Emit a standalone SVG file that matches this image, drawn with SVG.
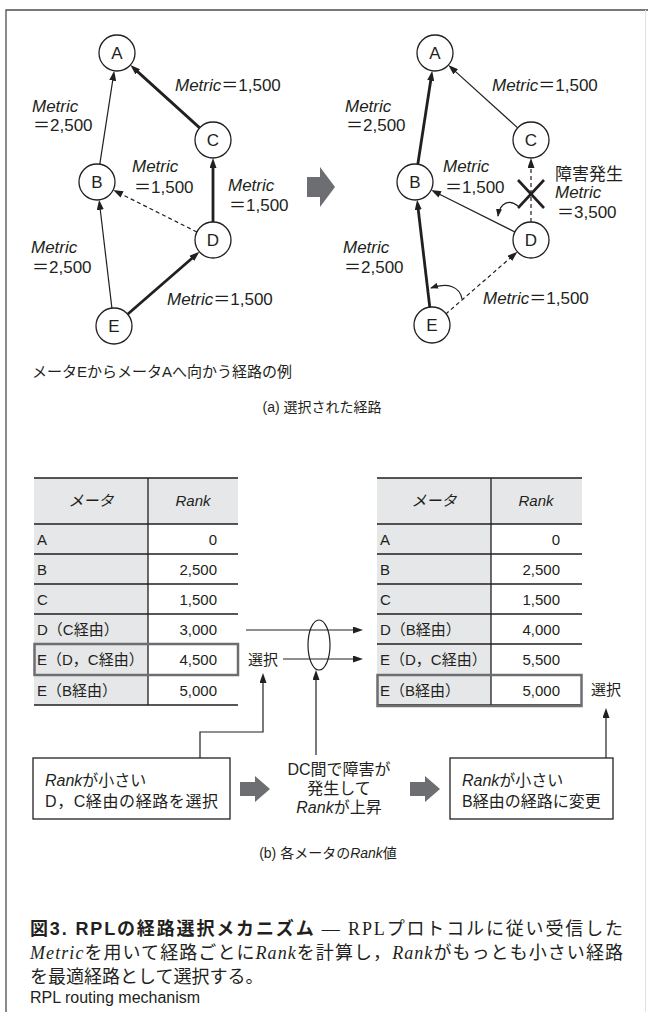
<svg xmlns="http://www.w3.org/2000/svg" width="648" height="1012" viewBox="0 0 648 1012">
<style>
text { font-family: "Liberation Sans", "Noto Sans CJK JP", sans-serif; fill: #231f20; }
.s17 { font-size: 17px; }
.s14 { font-size: 14px; }
.s15 { font-size: 15px; }
.s16 { font-size: 16px; }
.i { font-style: italic; }
.mid { text-anchor: middle; }
.end { text-anchor: end; }
.node circle { fill: #fff; stroke: #231f20; stroke-width: 1.3; }
.node text { font-size: 17px; text-anchor: middle; }
.e { fill: none; stroke: #231f20; }
.thin { stroke-width: 1.2; }
.thick { stroke-width: 2.8; }
.dash { stroke-dasharray: 4 3; }
.tl { stroke: #231f20; stroke-width: 1.3; fill: none; }
.hl { fill: none; stroke: #6d6e71; stroke-width: 2.5; }
.gray { fill: #e6e7e8; }
.garrow { fill: #6d6e71; }
.box { fill: #fff; stroke: #231f20; stroke-width: 1.3; }
.cap { font-family: "Liberation Serif", "Noto Sans CJK JP", serif; font-size: 18px; }
.capb { font-family: "Liberation Sans", "Noto Sans CJK JP", sans-serif; font-weight: bold; }
</style>
<defs>
<marker id="ah" markerUnits="userSpaceOnUse" markerWidth="10" markerHeight="7" refX="4" refY="3.5" orient="auto"><path d="M0,0 L10,3.5 L0,7 z" fill="#231f20"/></marker>
<marker id="ahs" markerUnits="userSpaceOnUse" markerWidth="8" markerHeight="6" refX="7" refY="3" orient="auto"><path d="M0,0 L8,3 L0,6 z" fill="#231f20"/></marker>
</defs>

<!-- frame -->
<g id="frame">
<path d="M6,1012 V10 H648" fill="none" stroke="#4d4d4f" stroke-width="1.3"/>
<line x1="645.5" y1="10" x2="645.5" y2="1012" stroke="#e2e2e2" stroke-width="1"/>
</g>

<!-- connectors -->
<g id="connectors">
<!-- left graph -->
<line class="e thin" x1="99.8" y1="164.2" x2="113.3" y2="76.7" marker-end="url(#ah)"/>
<line class="e thick" x1="199.7" y1="127.9" x2="134.8" y2="69.1" marker-end="url(#ah)"/>
<line class="e thick" x1="213" y1="222" x2="213" y2="164" marker-end="url(#ah)"/>
<line class="e thin dash" x1="196.9" y1="232" x2="118.5" y2="192.7" marker-end="url(#ah)"/>
<line class="e thin" x1="111.9" y1="308.1" x2="99.8" y2="205.8" marker-end="url(#ah)"/>
<line class="e thick" x1="127.6" y1="314.2" x2="194.9" y2="255.7" marker-end="url(#ah)"/>
<!-- right graph -->
<line class="e thick" x1="417.8" y1="164.2" x2="431.3" y2="76.7" marker-end="url(#ah)"/>
<line class="e thin" x1="517.7" y1="127.9" x2="452.8" y2="69.1" marker-end="url(#ah)"/>
<line class="e thin dash" x1="531" y1="222" x2="531" y2="164" marker-end="url(#ah)"/>
<line class="e thin" x1="514.9" y1="232" x2="436.5" y2="192.7" marker-end="url(#ah)"/>
<line class="e thick" x1="429.9" y1="308.1" x2="417.8" y2="205.8" marker-end="url(#ah)"/>
<line class="e thin dash" x1="445.6" y1="314.2" x2="512.9" y2="255.7" marker-end="url(#ah)"/>
<path class="e thin" d="M518,206 C510,199 500,202 498,216" marker-end="url(#ahs)"/>
<path class="e thin" d="M462,299 C460,287 448,282 431,288" marker-end="url(#ahs)"/>
<g stroke="#231f20" stroke-width="2.6">
<line x1="518" y1="180" x2="544" y2="208"/>
<line x1="544" y1="180" x2="518" y2="208"/>
</g>
<!-- big gray arrow -->
<polygon class="garrow" points="307,177 320,177 320,167 335,187 320,207 320,197 307,197"/>
<!-- table connectors -->
<line class="e thin" x1="246" y1="630" x2="357" y2="630" marker-end="url(#ah)"/>
<line class="e thin" x1="283" y1="659" x2="357" y2="659" marker-end="url(#ah)"/>
<ellipse cx="319" cy="645" rx="11" ry="25" fill="none" stroke="#231f20" stroke-width="1.2"/>
<path class="e thin" d="M200,758 V732 H263 V679" marker-end="url(#ah)"/>
<line class="e thin" x1="316" y1="755" x2="316" y2="676" marker-end="url(#ah)"/>
<line class="e thin" x1="606" y1="758" x2="606" y2="714" marker-end="url(#ah)"/>
<polygon class="garrow" points="240,782 255,782 255,776 270,789 255,802 255,796 240,796"/>
<polygon class="garrow" points="410,782 425,782 425,776 440,789 425,802 425,796 410,796"/>
</g>

<!-- left graph nodes -->
<g id="nA1" class="node"><circle cx="117" cy="53" r="18"/><text x="117" y="59">A</text></g>
<g id="nB1" class="node"><circle cx="97" cy="182" r="18"/><text x="97" y="188">B</text></g>
<g id="nC1" class="node"><circle cx="213" cy="140" r="18"/><text x="213" y="146">C</text></g>
<g id="nD1" class="node"><circle cx="213" cy="240" r="18"/><text x="213" y="246">D</text></g>
<g id="nE1" class="node"><circle cx="114" cy="326" r="18"/><text x="114" y="332">E</text></g>
<!-- right graph nodes -->
<g id="nA2" class="node"><circle cx="435" cy="53" r="18"/><text x="435" y="59">A</text></g>
<g id="nB2" class="node"><circle cx="415" cy="182" r="18"/><text x="415" y="188">B</text></g>
<g id="nC2" class="node"><circle cx="531" cy="140" r="18"/><text x="531" y="146">C</text></g>
<g id="nD2" class="node"><circle cx="531" cy="240" r="18"/><text x="531" y="246">D</text></g>
<g id="nE2" class="node"><circle cx="432" cy="325" r="18"/><text x="432" y="331">E</text></g>

<!-- left metric labels -->
<g id="labels-left" class="s17">
<text x="175" y="91"><tspan class="i">Metric</tspan>＝1,500</text>
<text x="32" y="112" class="i">Metric</text><text x="33" y="131">＝2,500</text>
<text x="132" y="172" class="i">Metric</text><text x="134" y="193">＝1,500</text>
<text x="228" y="191" class="i">Metric</text><text x="229" y="211">＝1,500</text>
<text x="31" y="253" class="i">Metric</text><text x="32" y="273">＝2,500</text>
<text x="167" y="305"><tspan class="i">Metric</tspan>＝1,500</text>
</g>
<!-- right metric labels -->
<g id="labels-right" class="s17">
<text x="492" y="91"><tspan class="i">Metric</tspan>＝1,500</text>
<text x="345" y="112" class="i">Metric</text><text x="346" y="131">＝2,500</text>
<text x="443" y="172" class="i">Metric</text><text x="445" y="193">＝1,500</text>
<text x="555" y="180">障害発生</text>
<text x="555" y="198" class="i">Metric</text><text x="557" y="218">＝3,500</text>
<text x="343" y="253" class="i">Metric</text><text x="344" y="273">＝2,500</text>
<text x="483" y="304"><tspan class="i">Metric</tspan>＝1,500</text>
</g>
<text id="note-a" x="32" y="377" class="s15">メータEからメータAへ向かう経路の例</text>
<text id="title-a" x="322" y="412" class="s14 mid">(a) 選択された経路</text>

<!-- left table -->
<g id="table-left">
<rect class="gray" x="34" y="478" width="204" height="46"/>
<rect class="gray" x="34" y="524" width="114" height="181"/>
<g class="tl">
<path d="M34,478 H238 M34,524 H238 M34,554 H238 M34,584 H238 M34,614 H238 M34,644 H238 M34,675 H238 M34,705 H238 M148,478 V705"/>
</g>
<rect class="hl" x="34.5" y="644" width="203.5" height="31"/>
<g class="s15">
<text x="91" y="506" class="mid i">メータ</text>
<text x="193" y="506" class="mid i">Rank</text>
<text x="37" y="545">A</text><text x="217" y="545" class="end">0</text>
<text x="37" y="575">B</text><text x="217" y="575" class="end">2,500</text>
<text x="37" y="605">C</text><text x="217" y="605" class="end">1,500</text>
<text x="37" y="635">D（C経由）</text><text x="217" y="635" class="end">3,000</text>
<text x="37" y="665">E（D，C経由）</text><text x="217" y="665" class="end">4,500</text>
<text x="37" y="696">E（B経由）</text><text x="217" y="696" class="end">5,000</text>
</g>
</g>
<text id="sel-left" x="248" y="665" class="s15">選択</text>

<!-- right table -->
<g id="table-right">
<rect class="gray" x="377" y="478" width="205" height="46"/>
<rect class="gray" x="377" y="524" width="114" height="181"/>
<g class="tl">
<path d="M377,478 H582 M377,524 H582 M377,554 H582 M377,584 H582 M377,614 H582 M377,644 H582 M377,675 H582 M377,705 H582 M491,478 V705"/>
</g>
<rect class="hl" x="377.5" y="675" width="204" height="31"/>
<g class="s15">
<text x="434" y="506" class="mid i">メータ</text>
<text x="536" y="506" class="mid i">Rank</text>
<text x="380" y="545">A</text><text x="560" y="545" class="end">0</text>
<text x="380" y="575">B</text><text x="560" y="575" class="end">2,500</text>
<text x="380" y="605">C</text><text x="560" y="605" class="end">1,500</text>
<text x="380" y="635">D（B経由）</text><text x="560" y="635" class="end">4,000</text>
<text x="380" y="665">E（D，C経由）</text><text x="560" y="665" class="end">5,500</text>
<text x="380" y="696">E（B経由）</text><text x="560" y="696" class="end">5,000</text>
</g>
</g>
<text id="sel-right" x="591" y="695" class="s15">選択</text>

<!-- bottom boxes -->
<g id="box-left">
<rect class="box" x="33" y="758" width="197" height="61"/>
<text x="45" y="786" class="s16"><tspan class="i">Rank</tspan>が小さい</text>
<text x="45" y="807" class="s16" textLength="173" lengthAdjust="spacing">D，C経由の経路を選択</text>
</g>
<g id="box-mid">
<text x="339" y="775" class="s16 mid">DC間で障害が</text>
<text x="339" y="794" class="s16 mid">発生して</text>
<text x="339" y="813" class="s16 mid"><tspan class="i">Rank</tspan>が上昇</text>
</g>
<g id="box-right">
<rect class="box" x="450" y="758" width="163" height="61"/>
<text x="462" y="786" class="s16"><tspan class="i">Rank</tspan>が小さい</text>
<text x="462" y="807" class="s16">B経由の経路に変更</text>
</g>
<text id="title-b" x="328" y="858" class="s14 mid">(b) 各メータの<tspan class="i">Rank</tspan>値</text>

<!-- caption -->
<g id="caption">
<text x="30" y="935" class="cap" textLength="593" lengthAdjust="spacing"><tspan class="capb">図3. RPLの経路選択メカニズム</tspan> — RPLプロトコルに従い受信した</text>
<text x="30" y="959" class="cap" textLength="593" lengthAdjust="spacing"><tspan class="i">Metric</tspan>を用いて経路ごとに<tspan class="i">Rank</tspan>を計算し，<tspan class="i">Rank</tspan>がもっとも小さい経路</text>
<text x="30" y="983" class="cap">を最適経路として選択する。</text>
<text x="30" y="1003" class="s16">RPL routing mechanism</text>
</g>
</svg>
